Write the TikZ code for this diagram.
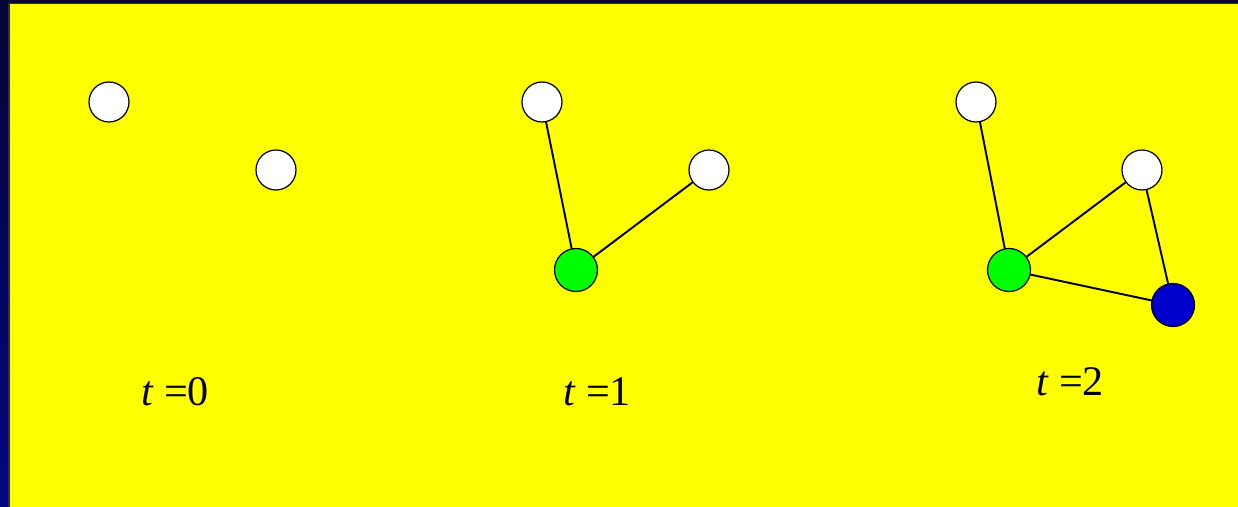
\documentclass[tikz,border=0pt]{standalone}
\usepackage{fontspec}
\setmainfont{Liberation Serif}
\definecolor{bgyellow}{RGB}{255,255,0}
\definecolor{nodegreen}{RGB}{0,255,0}
\definecolor{nodeblue}{RGB}{0,0,204}
\definecolor{navytop}{RGB}{5,5,55}
\definecolor{navybot}{RGB}{5,5,130}
\begin{document}
\begin{tikzpicture}[x=0.02cm,y=-0.02cm,line join=round,line cap=round,line width=1.1pt,
	vertex/.style={circle,draw,line width=0.7pt,inner sep=0pt,minimum size=40*0.02cm},
	lbl/.style={font=\fontsize{24}{28}\selectfont,inner sep=0pt}]
				\useasboundingbox (0,0) rectangle (1238,507);
				\shade[top color=navytop,bottom color=navybot] (0,0) rectangle (1238,507);
				\fill[bgyellow] (10,4) rectangle (1238,507);
				\draw[black!80,line width=0.8pt] (9,507)--(9,3.5)--(1238,3.5);
				% t=0
				\node[vertex,fill=white] (a0) at (109,102) {};
				\node[vertex,fill=white] (b0) at (276,170) {};
				\node[lbl] (t0) at (175,392) {\textit{t} =0};
				% t=1
				\node[vertex,fill=white] (a1) at (542,102) {};
				\node[vertex,fill=white] (b1) at (709,170) {};
				\node[vertex,fill=nodegreen,minimum size=43*0.02cm] (c1) at (576,270) {};
				\draw (a1)--(c1) (b1)--(c1);
				\node[lbl] (t1) at (597,392) {\textit{t} =1};
				% t=2
				\node[vertex,fill=white] (a2) at (976,102) {};
				\node[vertex,fill=white] (b2) at (1142,170) {};
				\node[vertex,fill=nodegreen,minimum size=43*0.02cm] (c2) at (1009,270) {};
				\node[vertex,fill=nodeblue,minimum size=43*0.02cm] (d2) at (1173,305) {};
				\draw (a2)--(c2) (b2)--(c2) (c2)--(d2) (b2)--(d2);
				\node[lbl] (t2) at (1070,382) {\textit{t} =2};
			\end{tikzpicture}
\end{document}
